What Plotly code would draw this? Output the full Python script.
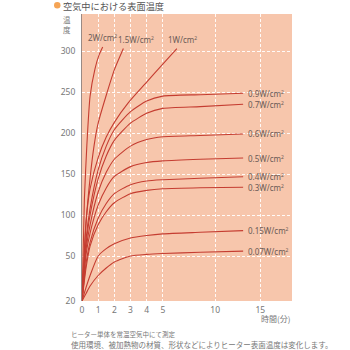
import numpy as np
import plotly.graph_objects as go

# ---------------- data ----------------
t_plateau = [0, 0.25, 0.5, 1, 1.5, 2, 3, 4, 5, 8.57, 13.1]
w090 = [20, 70, 108, 155, 184, 204, 226, 239, 245, 246.7, 248.4]
w070 = [20, 64, 100, 144, 172, 191, 212, 224, 230, 232.2, 235]
w060 = [20, 58, 88, 128, 152, 168, 184, 192, 195.5, 197, 198.8]
w050 = [20, 52, 78, 112, 133, 147, 159, 164, 166, 168, 169.5]
w040 = [20, 45, 67, 96, 114, 126, 137, 141.5, 143, 144.8, 146.7]
w030 = [20, 42, 62, 88, 104, 115, 126, 130, 132, 133.3, 133.8]
w015 = [20, 29, 37, 50, 59, 65, 72, 75, 77, 78.9, 80.9]
w007 = [20, 25, 30, 37, 42, 46, 50, 52, 53, 54.5, 56]

t_2w = [0, 0.15, 0.3, 0.5, 0.8, 1.05, 1.28]
w2 = [20, 120, 185, 245, 278, 295, 305]
t_15w = [0, 0.25, 0.5, 0.75, 1, 1.5, 2, 2.56]
w15 = [20, 90, 145, 185, 212, 246, 277, 303]
t_1w = [0, 0.25, 0.5, 1, 1.5, 2, 2.87, 4, 5, 6.34]
w1 = [20, 92, 132, 170, 195, 213, 237, 262, 284, 303]

plateau_labels = ["0.9", "0.7", "0.6", "0.5", "0.4", "0.3", "0.15", "0.07"]
plateau_series = [w090, w070, w060, w050, w040, w030, w015, w007]

x_ticks = [0, 1, 2, 3, 4, 5, 10, 15]
y_ticks = [20, 50, 100, 150, 200, 250, 300]

# ---------------- scales (piecewise axes of the original) ----------------
X_DOM = [0, 5, 10, 15, 18.52]
X_RNG = [0, 80.7, 133, 178, 209.7]
Y_DOM = [20, 50, 345]
Y_RNG = [0, 45, 45 + 295 * 0.82]

def sx(v):
    return np.interp(v, X_DOM, X_RNG)

def sy(v):
    return np.interp(v, Y_DOM, Y_RNG)

LINE = "#C53D31"
TXT = "#6a5a56"
FONT = "Noto Sans CJK JP"
LFONT = "Noto Sans"
SUP = "<sup><span style='font-size:5px'>2</span></sup>"

fig = go.Figure()

def add_curve(t, v):
    fig.add_trace(go.Scatter(
        x=sx(t), y=sy(v), mode="lines",
        line=dict(color=LINE, width=1.1, shape="spline", smoothing=0.6),
        hoverinfo="skip", showlegend=False, cliponaxis=False))

for s in plateau_series:
    add_curve(t_plateau, s)
add_curve(t_2w, w2)
add_curve(t_15w, w15)
add_curve(t_1w, w1)

# right-side labels
for lab, s in zip(plateau_labels, plateau_series):
    fig.add_annotation(x=sx(t_plateau[-1]), y=sy(s[-1]), text=f"{lab}W/cm{SUP}",
                       showarrow=False, xanchor="left", yanchor="middle", xshift=3,
                       font=dict(family=LFONT, size=8, color=TXT))

# top labels
for lab, t, s, xs in [("2W", t_2w, w2, 0), ("1.5W", t_15w, w15, 13), ("1W", t_1w, w1, 6)]:
    fig.add_annotation(x=sx(t[-1]), y=sy(s[-1]), text=f"{lab}/cm{SUP}",
                       showarrow=False, xanchor="center", yanchor="middle",
                       xshift=xs, yshift=9,
                       font=dict(family=LFONT, size=8, color=TXT))

# ---------------- layout ----------------
L, R, T, B = 82, 292, 14, 301
W, H = R - L, B - T

def px(x):
    return (x - L) / W

def py(y):
    return (B - y) / H

fig.update_layout(
    width=350, height=350,
    margin=dict(l=L, r=350 - R, t=T, b=350 - B),
    paper_bgcolor="white", plot_bgcolor="#F7C6AC",
    font=dict(family=FONT, color="#666"),
    xaxis=dict(range=[0, X_RNG[-1]], tickvals=sx(x_ticks).tolist(),
               ticktext=[str(v) for v in x_ticks], showgrid=True,
               gridcolor="rgba(255,255,255,0.9)", griddash="3px,2px", gridwidth=1,
               zeroline=False, showline=False, ticks="", ticklabelstandoff=2,
               tickfont=dict(family=LFONT, size=8.5, color="#777"), fixedrange=True),
    yaxis=dict(range=[0, H], tickvals=sy(y_ticks).tolist(),
               ticktext=[str(v) for v in y_ticks], showgrid=True,
               gridcolor="rgba(255,255,255,0.9)", griddash="3px,2px", gridwidth=1,
               zeroline=False, showline=True, linecolor="#9a8a84", linewidth=1,
               ticks="", ticklabelstandoff=4,
               tickfont=dict(family=LFONT, size=8.5, color="#777"), fixedrange=True),
)

# title with orange dot
fig.add_shape(type="circle", xref="paper", yref="paper",
              x0=px(54), x1=px(60.5), y0=py(8.5), y1=py(2), fillcolor="#F5A455",
              line=dict(width=0))
fig.add_annotation(xref="paper", yref="paper", x=px(61), y=py(6),
                   text="空気中における表面温度", showarrow=False,
                   xanchor="left", yanchor="middle",
                   font=dict(family=FONT, size=9.2, color="#555"))
# y title (vertical)
for ch, yy in [("温", 19.5), ("度", 29)]:
    fig.add_annotation(xref="paper", yref="paper", x=px(67), y=py(yy),
                       text=ch, showarrow=False, xanchor="center", yanchor="middle",
                       font=dict(family=FONT, size=7.5, color="#777"))
# x title
fig.add_annotation(xref="paper", yref="paper", x=1, y=py(318),
                   text="時間(分)", showarrow=False, xanchor="right", yanchor="middle",
                   font=dict(family=FONT, size=8, color="#777"))
# notes
fig.add_annotation(xref="paper", yref="paper", x=px(69), y=py(334),
                   text="ヒーター単体を常温空気中にて測定", showarrow=False,
                   xanchor="left", yanchor="middle",
                   font=dict(family=FONT, size=6.5, color="#777"))
fig.add_annotation(xref="paper", yref="paper", x=px(69), y=py(344.5),
                   text="使用環境、被加熱物の材質、形状などによりヒーター表面温度は変化します。",
                   showarrow=False, xanchor="left", yanchor="middle",
                   font=dict(family=FONT, size=7.5, color="#777"))

fig.write_html("out.html")
